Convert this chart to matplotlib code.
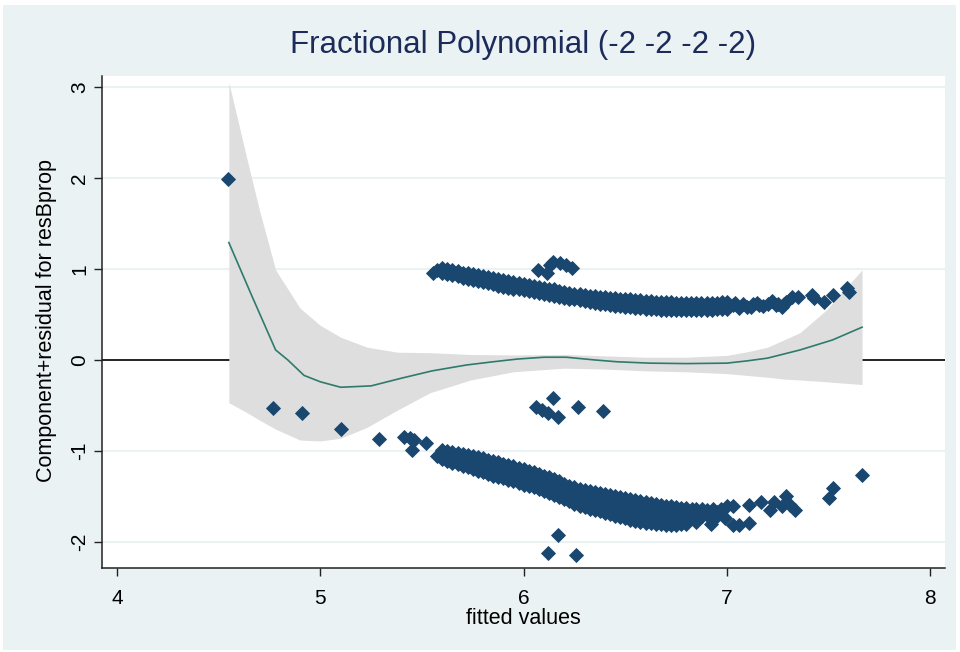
import matplotlib
matplotlib.use("Agg")
import matplotlib.pyplot as plt
from matplotlib.patches import Rectangle

# ---------------- data ----------------
# fractional-polynomial fit line
fit_x = [4.55, 4.66, 4.78, 4.84, 4.92, 5.00, 5.10, 5.25, 5.40, 5.55, 5.72, 5.85,
         5.97, 6.10, 6.21, 6.35, 6.46, 6.62, 6.80, 7.00, 7.10, 7.20, 7.36, 7.52, 7.665]
fit_y = [1.29, 0.72, 0.11, 0.00, -0.17, -0.24, -0.30, -0.285, -0.20, -0.12, -0.055, -0.02,
         0.01, 0.03, 0.03, 0.00, -0.02, -0.035, -0.04, -0.035, -0.01, 0.02, 0.11, 0.22, 0.36]

# confidence band
ci_x = [4.55, 4.64, 4.70, 4.78, 4.90, 5.00, 5.10, 5.23, 5.38, 5.54, 5.74, 5.95,
        6.20, 6.40, 6.60, 6.80, 7.00, 7.10, 7.20, 7.28, 7.36, 7.49, 7.665]
ci_hi = [3.05, 2.20, 1.65, 0.99, 0.57, 0.38, 0.25, 0.14, 0.085, 0.08, 0.06, 0.055,
         0.06, 0.045, 0.03, 0.03, 0.05, 0.09, 0.14, 0.22, 0.30, 0.55, 0.99]
ci_lo = [-0.47, -0.58, -0.66, -0.76, -0.88, -0.89, -0.86, -0.74, -0.55, -0.36, -0.22, -0.13,
         -0.09, -0.10, -0.12, -0.13, -0.15, -0.17, -0.19, -0.21, -0.22, -0.24, -0.27]

# upper cloud of residuals (dense part)
up_xa = [5.60, 5.65, 5.70, 5.75, 5.80, 5.85, 5.90, 5.95, 6.00, 6.05, 6.10, 6.15, 6.20, 6.25,
         6.30, 6.35, 6.40, 6.45, 6.50, 6.55, 6.60, 6.65, 6.70, 6.75, 6.80, 6.85, 6.90, 6.95, 7.00]
up_top_a = [1.01, 0.99, 0.96, 0.94, 0.92, 0.90, 0.875, 0.855, 0.835, 0.815, 0.795, 0.775, 0.75, 0.73,
            0.715, 0.70, 0.69, 0.68, 0.67, 0.66, 0.65, 0.64, 0.635, 0.63, 0.63, 0.63, 0.63, 0.63, 0.635]
up_bot_a = [0.955, 0.935, 0.905, 0.88, 0.855, 0.83, 0.805, 0.785, 0.765, 0.745, 0.725, 0.705, 0.685, 0.665,
            0.645, 0.625, 0.61, 0.595, 0.585, 0.575, 0.565, 0.555, 0.55, 0.55, 0.55, 0.55, 0.55, 0.555, 0.56]
up_xb = [5.625, 5.675, 5.725, 5.775, 5.825, 5.875, 5.925, 5.975, 6.025, 6.075, 6.125, 6.175, 6.225, 6.275,
         6.325, 6.375, 6.425, 6.475, 6.525, 6.575, 6.625, 6.675, 6.725, 6.775, 6.825, 6.875, 6.925, 6.975]
up_top_b = [1.00, 0.975, 0.95, 0.93, 0.91, 0.888, 0.865, 0.845, 0.825, 0.805, 0.785, 0.763, 0.74, 0.723,
            0.708, 0.695, 0.685, 0.675, 0.665, 0.655, 0.645, 0.638, 0.633, 0.63, 0.63, 0.63, 0.63, 0.633]
up_mid_b = [0.98, 0.945, 0.92, 0.90, 0.875, 0.855, 0.835, 0.81, 0.79, 0.77, 0.75, 0.73, 0.71, 0.69,
            0.67, 0.655, 0.645, 0.635, 0.625, 0.615, 0.60, 0.595, 0.59, 0.59, 0.59, 0.59, 0.59, 0.595]
up_bot_b = [0.945, 0.92, 0.893, 0.868, 0.843, 0.818, 0.795, 0.775, 0.755, 0.735, 0.715, 0.695, 0.675, 0.655,
            0.635, 0.618, 0.603, 0.59, 0.58, 0.57, 0.56, 0.553, 0.55, 0.55, 0.55, 0.55, 0.553, 0.558]

# lower cloud of residuals (dense part)
lo_xa = [5.60, 5.65, 5.70, 5.75, 5.80, 5.85, 5.90, 5.95, 6.00, 6.05, 6.10, 6.15, 6.20,
         6.25, 6.30, 6.35, 6.40, 6.45, 6.50, 6.55, 6.60, 6.65, 6.70, 6.75, 6.80]
lo_r1a = [-0.99, -1.01, -1.03, -1.05, -1.08, -1.11, -1.14, -1.17, -1.20, -1.23, -1.27, -1.31, -1.36,
          -1.40, -1.43, -1.45, -1.47, -1.49, -1.52, -1.54, -1.56, -1.58, -1.60, -1.62, -1.63]
lo_r3a = [-1.04, -1.07, -1.095, -1.125, -1.155, -1.19, -1.22, -1.25, -1.285, -1.315, -1.355, -1.395, -1.445,
          -1.49, -1.525, -1.55, -1.575, -1.60, -1.63, -1.655, -1.675, -1.69, -1.705, -1.715, -1.715]
lo_r5a = [-1.09, -1.13, -1.16, -1.20, -1.23, -1.27, -1.30, -1.33, -1.37, -1.40, -1.44, -1.48, -1.53,
          -1.58, -1.62, -1.65, -1.68, -1.71, -1.74, -1.77, -1.79, -1.80, -1.81, -1.81, -1.80]
lo_xb = [5.625, 5.675, 5.725, 5.775, 5.825, 5.875, 5.925, 5.975, 6.025, 6.075, 6.125, 6.175,
         6.225, 6.275, 6.325, 6.375, 6.425, 6.475, 6.525, 6.575, 6.625, 6.675, 6.725, 6.775]
lo_r1b = [-1.00, -1.02, -1.04, -1.065, -1.095, -1.125, -1.155, -1.185, -1.215, -1.25, -1.29, -1.335,
          -1.38, -1.415, -1.44, -1.46, -1.48, -1.505, -1.53, -1.55, -1.57, -1.59, -1.61, -1.625]
lo_r2b = [-1.02, -1.045, -1.07, -1.10, -1.13, -1.16, -1.19, -1.22, -1.255, -1.29, -1.33, -1.37,
          -1.42, -1.455, -1.48, -1.505, -1.53, -1.555, -1.58, -1.60, -1.62, -1.64, -1.655, -1.67]
lo_r4b = [-1.085, -1.12, -1.15, -1.18, -1.215, -1.25, -1.28, -1.315, -1.35, -1.385, -1.43, -1.475,
          -1.525, -1.56, -1.595, -1.625, -1.655, -1.685, -1.715, -1.74, -1.76, -1.775, -1.785, -1.785]
lo_r5b = [-1.11, -1.145, -1.18, -1.215, -1.25, -1.285, -1.315, -1.35, -1.385, -1.42, -1.46, -1.505,
          -1.555, -1.60, -1.635, -1.665, -1.695, -1.725, -1.755, -1.78, -1.795, -1.805, -1.81, -1.805]

# sparse tail of the upper cloud
up_tail_x = [5.554, 5.575, 7.03, 7.04, 7.06, 7.08, 7.10, 7.12, 7.13, 7.15, 7.16, 7.18, 7.20, 7.22,
             7.24, 7.25, 7.27, 7.28, 7.29, 7.32, 7.35, 7.42, 7.43, 7.48, 7.52, 7.59, 7.60]
up_tail_y = [0.956, 0.99, 0.60, 0.63, 0.57, 0.62, 0.58, 0.58, 0.61, 0.63, 0.60, 0.59, 0.62, 0.65,
             0.60, 0.62, 0.58, 0.61, 0.64, 0.69, 0.69, 0.71, 0.68, 0.64, 0.71, 0.79, 0.75]

# sparse tail of the lower cloud
lo_tail_x = [5.575, 6.83, 6.83, 6.85, 6.85, 6.86, 6.88, 6.88, 6.90, 6.90, 6.92, 6.93, 6.95, 6.95,
             6.97, 6.99, 7.00, 7.03, 7.03, 7.06, 7.11, 7.11, 7.17,
             7.21, 7.23, 7.27, 7.29, 7.31, 7.335, 7.50, 7.52, 7.665]
lo_tail_y = [-1.06, -1.64, -1.72, -1.64, -1.78, -1.68, -1.72, -1.64, -1.65, -1.70, -1.80, -1.64, -1.67, -1.72,
             -1.64, -1.74, -1.61, -1.61, -1.81, -1.81, -1.59, -1.79, -1.56,
             -1.65, -1.56, -1.61, -1.50, -1.59, -1.65, -1.52, -1.41, -1.26]

# isolated points
iso_x = [4.546, 4.767, 4.91, 5.10, 5.29, 5.41, 5.44, 5.46, 5.45, 5.52,
         6.07, 6.115, 6.13, 6.145, 6.18, 6.21, 6.24,
         6.145, 6.06, 6.09, 6.12, 6.17, 6.27, 6.39,
         6.17, 6.12, 6.26]
iso_y = [1.99, -0.527, -0.58, -0.76, -0.87, -0.85, -0.86, -0.88, -0.99, -0.91,
         0.99, 0.96, 1.04, 1.08, 1.07, 1.04, 1.01,
         -0.42, -0.52, -0.55, -0.58, -0.63, -0.52, -0.56,
         -1.92, -2.12, -2.14]

x_ticks = [4, 5, 6, 7, 8]
y_ticks = [-2, -1, 0, 1, 2, 3]

title = "Fractional Polynomial (-2 -2 -2 -2)"
x_label = "fitted values"
y_label = "Component+residual for resBprop"

# ---------------- styling ----------------
BG = "#EAF2F3"
NAVY = "#1A476F"
LINE = "#2E7B6C"
BAND = "#DEDEDE"
TEXT = "#000000"
TITLE_C = "#1C2B5A"
FONT = ["Liberation Sans", "DejaVu Sans"]
plt.rcParams["font.family"] = FONT

W, H = 960, 652
fig = plt.figure(figsize=(W / 100, H / 100), dpi=100)
fig.patch.set_facecolor("white")
fig.add_artist(Rectangle((3 / W, 2 / H), (956 - 3) / W, (647 - 2) / H,
                         transform=fig.transFigure, facecolor=BG, edgecolor="none", zorder=0))

L, R, T, B = 102, 945, 76, 568
ax = fig.add_axes([L / W, 1 - B / H, (R - L) / W, (B - T) / H])
ax.set_facecolor("white")
ax.set_xlim(3.926, 8.073)
ax.set_ylim(-2.286, 3.12)

for yt in y_ticks:
    ax.axhline(yt, color=BG, lw=1.5, zorder=1)
ax.axhline(0, color="black", lw=1.2, zorder=2)

ax.fill_between(ci_x, ci_lo, ci_hi, color=BAND, lw=0, zorder=3)
ax.plot(fit_x, fit_y, color=LINE, lw=1.2, zorder=4)

mk = dict(ls="none", marker="D", ms=7.0, mew=0.6, mec=NAVY, color=NAVY, zorder=5)
for xs, ys in [(up_xa, up_top_a), (up_xa, up_bot_a),
               (up_xb, up_top_b), (up_xb, up_mid_b), (up_xb, up_bot_b),
               (lo_xa, lo_r1a), (lo_xa, lo_r3a), (lo_xa, lo_r5a),
               (lo_xb, lo_r1b), (lo_xb, lo_r2b), (lo_xb, lo_r4b), (lo_xb, lo_r5b),
               (up_tail_x, up_tail_y), (lo_tail_x, lo_tail_y), (iso_x, iso_y)]:
    ax.plot(xs, ys, **mk)

for s in ["top", "right"]:
    ax.spines[s].set_visible(False)
for s in ["left", "bottom"]:
    ax.spines[s].set_color("#222222")
    ax.spines[s].set_linewidth(1.1)

ax.set_xticks(x_ticks)
ax.set_yticks(y_ticks)
ax.set_xticklabels([str(v) for v in x_ticks])
ax.set_yticklabels([str(v) for v in y_ticks])
ax.tick_params(axis="both", length=6, width=1.0, color="#222222", labelsize=15, labelcolor=TEXT)
ax.tick_params(axis="x", pad=9)
plt.setp(ax.get_yticklabels(), rotation=90, va="center", ha="center")
ax.tick_params(axis="y", pad=10)

fig.text(523.5 / W, 1 - 45 / H, title, ha="center", va="center", fontsize=22.5, color=TITLE_C)
fig.text(523.5 / W, 1 - 618 / H, x_label, ha="center", va="center", fontsize=15.5, color=TEXT)
fig.text(47 / W, 1 - 320 / H, y_label, ha="center", va="center", rotation=90, fontsize=15.5, color=TEXT)

fig.savefig("out.png", dpi=100, facecolor=fig.get_facecolor())
